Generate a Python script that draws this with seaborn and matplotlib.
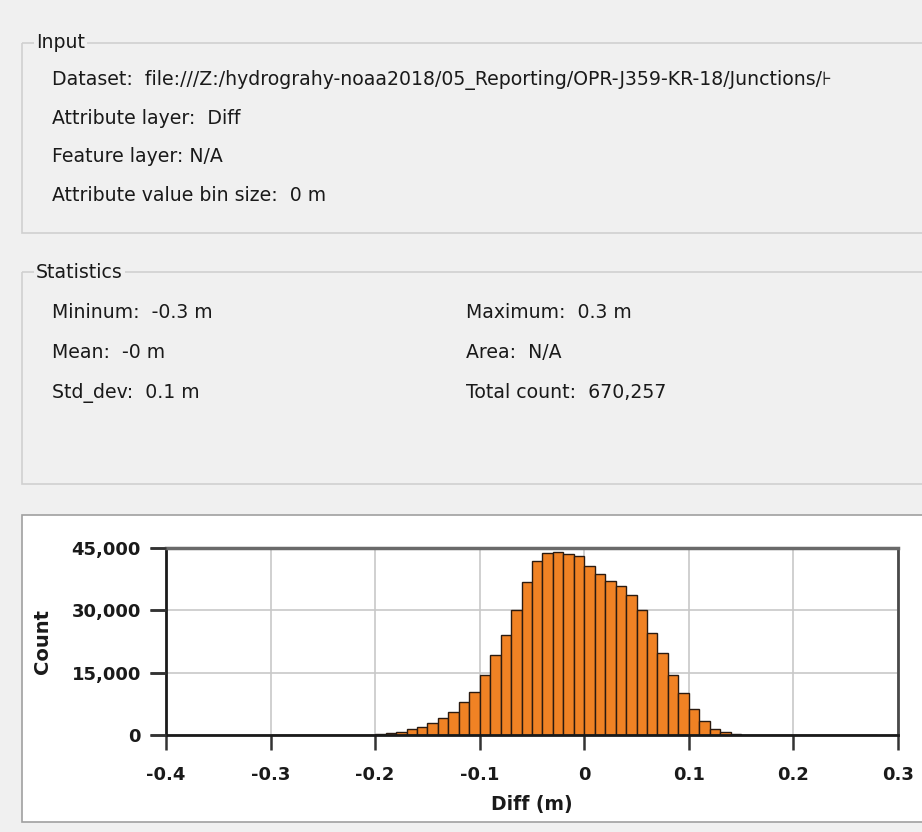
import numpy as np
import pandas as pd
import matplotlib
matplotlib.use("Agg")
import matplotlib.pyplot as plt
import seaborn as sns
from matplotlib.patches import Rectangle

# ---------------- data ----------------
bin_starts = [
    -0.30, -0.29, -0.28, -0.27, -0.26, -0.25, -0.24, -0.23, -0.22, -0.21,
    -0.20, -0.19, -0.18, -0.17, -0.16, -0.15, -0.14, -0.13, -0.12, -0.11,
    -0.10, -0.09, -0.08, -0.07, -0.06, -0.05, -0.04, -0.03, -0.02, -0.01,
    0.00, 0.01, 0.02, 0.03, 0.04, 0.05, 0.06, 0.07, 0.08, 0.09,
    0.10, 0.11, 0.12, 0.13, 0.14, 0.15, 0.16, 0.17, 0.18, 0.19,
    0.20, 0.21, 0.22, 0.23, 0.24, 0.25, 0.26, 0.27,
]
counts = [
    5, 8, 10, 15, 20, 25, 30, 45, 70, 110,
    200, 400, 800, 1380, 1860, 2830, 4040, 5640, 7900, 10330,
    14350, 19190, 24030, 30000, 36700, 41780, 43750, 43950, 43550, 43000,
    40730, 38710, 37100, 35890, 33710, 30000, 24600, 19760, 14350, 10080,
    6150, 3300, 1450, 800, 300, 120, 60, 35, 25, 15,
    12, 10, 8, 6, 5, 4, 3, 2,
]
bin_width = 0.01
x_ticks = [-0.4, -0.3, -0.2, -0.1, 0.0, 0.1, 0.2, 0.3]
x_tick_labels = ["-0.4", "-0.3", "-0.2", "-0.1", "0", "0.1", "0.2", "0.3"]
y_ticks = [0, 15000, 30000, 45000]
y_tick_labels = ["0", "15,000", "30,000", "45,000"]

input_lines = [
    "Dataset:  file:///Z:/hydrograhy-noaa2018/05_Reporting/OPR-J359-KR-18/Junctions/\u22a6",
    "Attribute layer:  Diff",
    "Feature layer: N/A",
    "Attribute value bin size:  0 m",
]
stats_left = ["Mininum:  -0.3 m", "Mean:  -0 m", "Std_dev:  0.1 m"]
stats_right = ["Maximum:  0.3 m", "Area:  N/A", "Total count:  670,257"]

# ---------------- figure ----------------
W, H = 922, 832
sns.set_style("ticks")
plt.rcParams["font.family"] = ["DejaVu Sans"]
fig = plt.figure(figsize=(W / 100, H / 100), dpi=100, facecolor="#f0f0f0")

bg = fig.add_axes([0, 0, 1, 1])
bg.set_xlim(0, W)
bg.set_ylim(H, 0)
bg.axis("off")
bg.set_facecolor("#f0f0f0")

BG = "#f0f0f0"
BORDER = "#d0d0d0"
TICK_C = "#333333"
dlg_font = dict(fontsize=13.6, color="#1a1a1a", va="center", ha="left")

# Input group box
bg.add_patch(Rectangle((22, 43), 920, 190, fill=False, ec=BORDER, lw=1.2))
bg.text(36, 43, "Input", bbox=dict(fc=BG, ec="none", pad=1.5), **dlg_font)
for i, line in enumerate(input_lines):
    bg.text(52, 80 + i * 38.5, line, **dlg_font)

# Statistics group box
bg.add_patch(Rectangle((22, 272), 920, 212, fill=False, ec=BORDER, lw=1.2))
bg.text(36, 272, "Statistics", bbox=dict(fc=BG, ec="none", pad=1.5), **dlg_font)
for i, (l, r) in enumerate(zip(stats_left, stats_right)):
    bg.text(52, 313 + i * 40, l, **dlg_font)
    bg.text(466, 313 + i * 40, r, **dlg_font)

# Chart panel
bg.add_patch(Rectangle((22, 515), 920, 307, fc="white", ec="#a0a0a0", lw=1.2))

# Histogram axes
left, right, top, bottom = 166, 898, 548, 735
ax = fig.add_axes([left / W, (H - bottom) / H, (right - left) / W, (bottom - top) / H])
ax.set_facecolor("white")

df = pd.DataFrame({"diff": np.array(bin_starts) + bin_width / 2, "count": counts})
sns.histplot(data=df, x="diff", weights="count", binwidth=bin_width,
             binrange=(bin_starts[0], bin_starts[-1] + bin_width), ax=ax,
             color="#f08224", alpha=1.0, edgecolor="#2a1a10", linewidth=1.0,
             zorder=3)

ax.set_xlim(-0.4, 0.3)
ax.set_ylim(0, 45000)
ax.set_xticks(x_ticks)
ax.set_xticklabels(x_tick_labels)
ax.set_yticks(y_ticks)
ax.set_yticklabels(y_tick_labels)
ax.grid(True, color="#c8c8c8", lw=1.2, zorder=0)
ax.set_axisbelow(True)

for lab in ax.get_xticklabels() + ax.get_yticklabels():
    lab.set_fontweight("bold")
    lab.set_fontsize(13)
    lab.set_color("#1a1a1a")
ax.tick_params(axis="x", which="major", bottom=True, top=False, direction="out",
               length=11, width=1.8, color=TICK_C, pad=11)
ax.tick_params(axis="y", which="major", left=True, right=False, direction="out",
               length=11.5, width=1.8, color=TICK_C, pad=6.5)

# make sure the outward y tick marks are visible (drawn on top, outside the axes)
tick_frac = 16 / (right - left)
for yv in y_ticks:
    ax.plot([-tick_frac, 0], [yv, yv], transform=ax.get_yaxis_transform(),
            color=TICK_C, lw=1.8, clip_on=False, zorder=6, solid_capstyle="butt")

for s in ["left", "bottom"]:
    ax.spines[s].set_color("#1a1a1a")
    ax.spines[s].set_linewidth(2.0)
ax.spines["top"].set_color("#6a6a6a")
ax.spines["top"].set_linewidth(2.5)
ax.spines["right"].set_color("#4a4a4a")
ax.spines["right"].set_linewidth(2.0)
for s in ax.spines.values():
    s.set_zorder(5)

ax.set_xlabel("Diff (m)", fontsize=13.5, fontweight="bold", color="#1a1a1a", labelpad=8)
ax.set_ylabel("")
bg.text(42, 641, "Count", rotation=90, fontsize=14, fontweight="bold",
        color="#1a1a1a", ha="center", va="center")

fig.savefig("out.png", dpi=100, facecolor=fig.get_facecolor())
